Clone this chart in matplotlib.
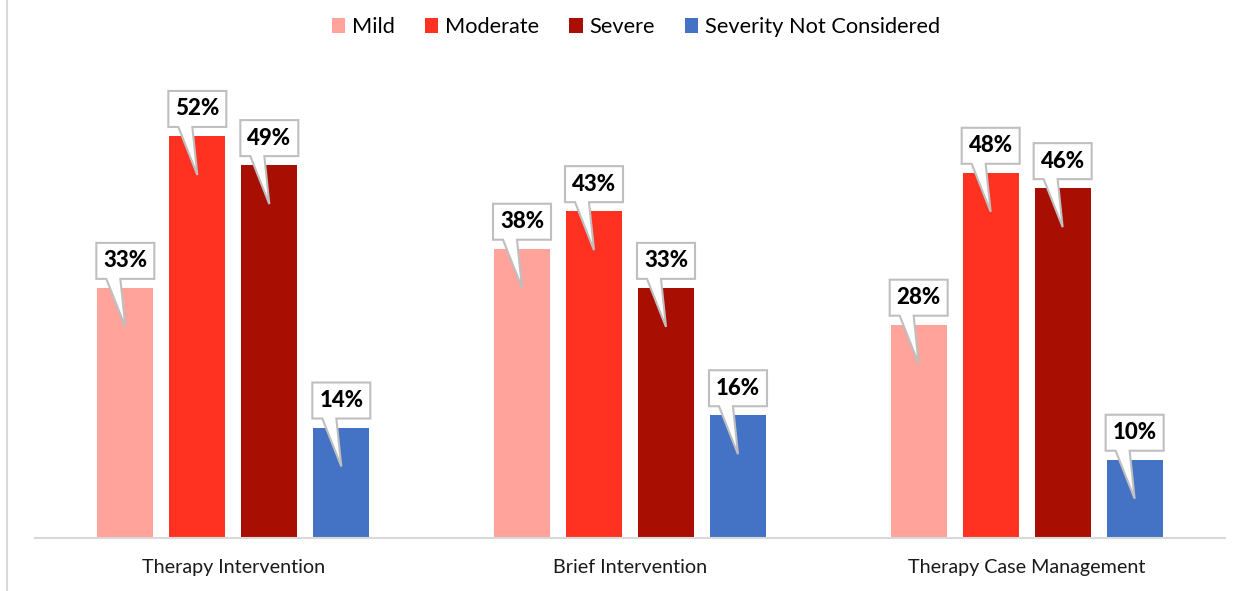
import matplotlib
matplotlib.use("Agg")
import matplotlib.pyplot as plt
import matplotlib.transforms as mtransforms
from matplotlib.patches import Polygon, Patch
from matplotlib.lines import Line2D
import numpy as np

plt.rcParams['font.family'] = ['Lato', 'DejaVu Sans']

categories = ["Therapy Intervention", "Brief Intervention", "Therapy Case Management"]
series_names = ["Mild", "Moderate", "Severe", "Severity Not Considered"]
mild = [32.6, 37.7, 27.8]
moderate = [52.4, 42.6, 47.6]
severe = [48.6, 32.6, 45.6]
not_considered = [14.4, 16.0, 10.2]
colors = ["#FFA39B", "#FF3222", "#A80E02", "#4472C4"]

series = [mild, moderate, severe, not_considered]

W, H = 1251, 591
fig = plt.figure(figsize=(W / 100, H / 100), dpi=100)
ax = fig.add_axes([35 / W, (H - 538) / H, (1225 - 35) / W, (538 - 60) / H])

x = np.arange(len(categories))
bw = 0.141
step = 0.1815
offsets = (np.arange(4) - 1.5) * step

for i, (vals, col) in enumerate(zip(series, colors)):
    ax.bar(x + offsets[i], vals, width=bw, color=col, zorder=2)

ax.set_xlim(-0.5, 2.5)
ax.set_ylim(0, 62.3)
for s in ["top", "right", "left"]:
    ax.spines[s].set_visible(False)
ax.spines["bottom"].set_color("#D9D9D9")
ax.spines["bottom"].set_linewidth(1.5)
ax.set_yticks([])
ax.set_xticks(x)
ax.set_xticklabels(categories, fontsize=14.2, color="#1a1a1a")
ax.tick_params(axis="x", length=0, pad=15)

# callouts (shape in pixels relative to bar top center)
shape = [(-29, 9), (-19, 9), (0, -39), (-5, 9), (29, 9), (29, 45), (-29, 45)]
for i, vals in enumerate(series):
    for j, v in enumerate(vals):
        xc = x[j] + offsets[i]
        tr = mtransforms.Affine2D() + mtransforms.ScaledTranslation(xc, v, ax.transData)
        poly = Polygon(shape, closed=True, transform=tr, facecolor="white",
                       edgecolor="#BFBFBF", linewidth=1.5, zorder=5, clip_on=False)
        ax.add_patch(poly)
        ax.annotate(f"{round(v)}%", xy=(xc, v), xytext=(0, 27 * 72 / 100),
                    textcoords="offset points", ha="center", va="center",
                    fontsize=16, fontweight="black", color="black", zorder=6)

handles = [Patch(facecolor=c, edgecolor="none") for c in colors]
fig.legend(handles, series_names, loc="center", bbox_to_anchor=(636 / W, 1 - 27 / H),
           ncol=4, frameon=False, fontsize=15.7, handlelength=0.6, handleheight=0.7,
           handletextpad=0.3, columnspacing=1.4)

fig.add_artist(Line2D([7 / W, 7 / W], [0, 1], transform=fig.transFigure,
                      color="#D9D9D9", linewidth=1.5))

fig.savefig("out.png", dpi=100)
